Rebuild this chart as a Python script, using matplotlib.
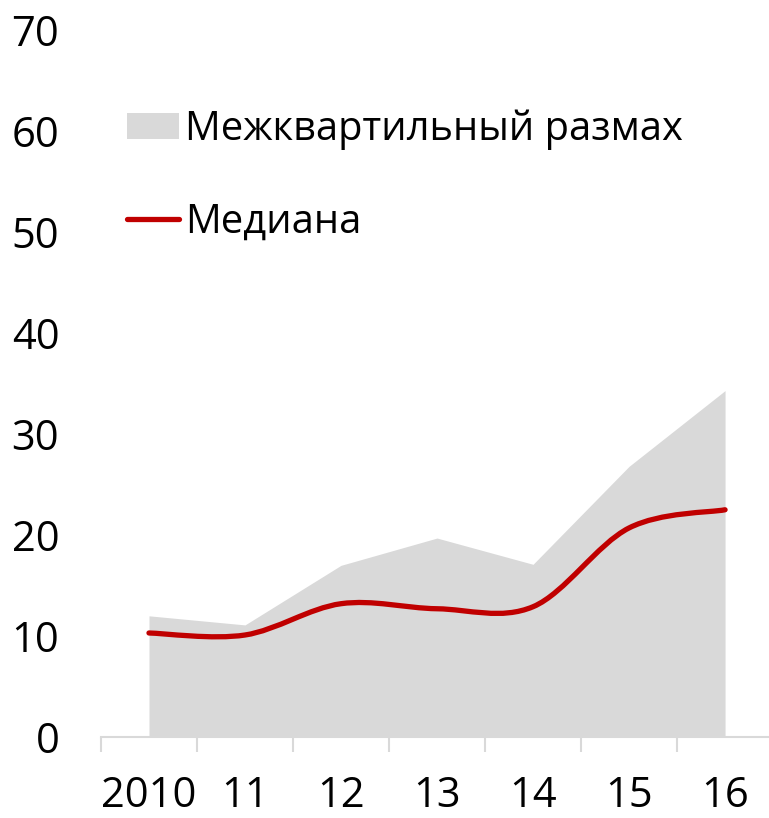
import numpy as np
import matplotlib
matplotlib.use("Agg")
import matplotlib.pyplot as plt
from matplotlib.path import Path
from matplotlib.patches import PathPatch, Patch
from matplotlib.lines import Line2D

plt.rcParams['font.family'] = ['Open Sans', 'DejaVu Sans']

categories = ["2010", "11", "12", "13", "14", "15", "16"]
upper_quartile = [12.0, 11.1, 17.0, 19.7, 17.1, 26.8, 34.3]
median = [10.3, 10.1, 13.2, 12.7, 12.9, 20.7, 22.5]
yticks = [0, 10, 20, 30, 40, 50, 60, 70]

fig = plt.figure(figsize=(7.69, 8.18), dpi=100)
ax = fig.add_axes([0.1313, 0.099, 0.874, 0.8643])

x = np.arange(len(categories))
ax.fill_between(x, 0, upper_quartile, color="#d9d9d9", linewidth=0, zorder=1)

# Excel-style smoothed line (Catmull-Rom as cubic Bezier)
pts = np.column_stack([x, median]).astype(float)
verts = [tuple(pts[0])]
codes = [Path.MOVETO]
n = len(pts)
for i in range(n - 1):
    p0 = pts[i - 1] if i > 0 else pts[i]
    p1 = pts[i]
    p2 = pts[i + 1]
    p3 = pts[i + 2] if i + 2 < n else pts[i + 1]
    c1 = p1 + (p2 - p0) / 6.0
    c2 = p2 - (p3 - p1) / 6.0
    verts += [tuple(c1), tuple(c2), tuple(p2)]
    codes += [Path.CURVE4] * 3
ax.add_patch(PathPatch(Path(verts, codes), fill=False, edgecolor="#c00000",
                       linewidth=3.8, capstyle="round", zorder=3))

ax.set_xlim(-0.5, len(categories) - 0.5)
ax.set_ylim(0, 70)
ax.set_yticks(yticks)
ax.set_yticklabels([str(v) for v in yticks])
ax.set_xticks(x)
ax.set_xticklabels(categories)
ax.set_xticks(np.arange(len(categories) + 1) - 0.5, minor=True)

for s in ["top", "right", "left"]:
    ax.spines[s].set_visible(False)
ax.spines["bottom"].set_color("#d9d9d9")
ax.spines["bottom"].set_linewidth(1.5)

ax.tick_params(axis="x", which="major", length=0, pad=27, labelsize=30, colors="black")
ax.tick_params(axis="x", which="minor", length=11, width=1.5, color="#d9d9d9", direction="out")
ax.tick_params(axis="y", length=0, pad=30, labelsize=30)

handles = [Patch(facecolor="#d9d9d9", edgecolor="none"),
           Line2D([0], [0], color="#c00000", linewidth=3.8, solid_capstyle="round")]
leg = ax.legend(handles, ["Межквартильный размах", "Медиана"],
                loc="upper left", bbox_to_anchor=(0.015, 0.91), frameon=False,
                fontsize=28.7, handlelength=1.3, handleheight=0.65, handletextpad=0.15,
                labelspacing=1.3, borderaxespad=0)

fig.savefig("out.png", dpi=100)
